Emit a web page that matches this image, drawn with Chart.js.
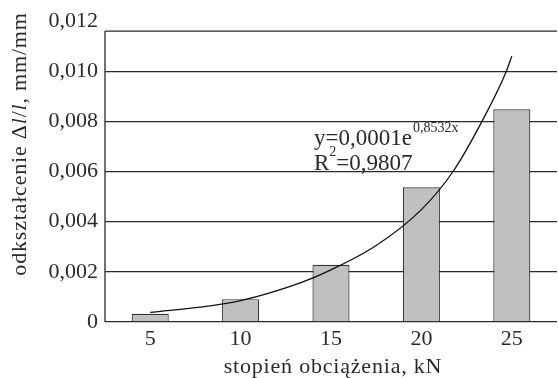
<!DOCTYPE html>
<html>
<head>
<meta charset="utf-8">
<script src="https://cdn.jsdelivr.net/npm/chart.js@4/dist/chart.umd.min.js"></script>
<style>
  html, body { margin: 0; padding: 0; background: #fff; }
  #wrap { width: 558px; height: 378px; }
</style>
</head>
<body>
<div id="wrap"><canvas id="chart" width="558" height="378"></canvas></div>
<script>
// dane
const loads = ["5", "10", "15", "20", "25"];
const strain = [0.00033, 0.00091, 0.00228, 0.00537, 0.00848];
// linia trendu (x = numer stopnia 1..5)
const trendX = [1.0, 1.66, 2.0, 2.66, 3.0, 3.5, 4.0, 4.35, 4.67, 4.94, 5.0];
const trendY = [0.00038, 0.00064, 0.00085, 0.00156, 0.00208, 0.00305, 0.00448, 0.006, 0.008, 0.010, 0.0106];
const yTicks = [0, 0.002, 0.004, 0.006, 0.008, 0.010, 0.012];
const frameTop = 0.0116;

const serif = "'Liberation Serif', 'Times New Roman', serif";
const ink = "#2a2a2a";

// tekst z czesciami pisanymi kursywa, wysrodkowany w (0,0)
function drawParts(ctx, parts, fs) {
  let total = 0;
  parts.forEach(p => {
    ctx.font = (p[1] ? "italic " : "") + fs + "px " + serif;
    total += ctx.measureText(p[0]).width;
  });
  let x = -total / 2;
  parts.forEach(p => {
    ctx.font = (p[1] ? "italic " : "") + fs + "px " + serif;
    ctx.fillText(p[0], x, 0);
    x += ctx.measureText(p[0]).width;
  });
}

// ramka, tytuly osi i rownanie trendu
const extras = {
  id: "extras",
  afterDraw(chart) {
    const ctx = chart.ctx;
    const area = chart.chartArea;
    const ys = chart.scales.y;
    const top = ys.getPixelForValue(frameTop);

    ctx.save();
    ctx.strokeStyle = ink;
    ctx.lineWidth = 1.3;
    ctx.beginPath();
    ctx.moveTo(area.left, top);
    ctx.lineTo(area.right, top);
    ctx.moveTo(area.left, top);
    ctx.lineTo(area.left, area.bottom);
    ctx.stroke();

    ctx.fillStyle = ink;
    ctx.textBaseline = "middle";
    ctx.textAlign = "left";
    ctx.letterSpacing = "0.8px";

    // tytul osi X
    ctx.save();
    ctx.translate(333, 367);
    drawParts(ctx, [["stopień obciążenia, kN", false]], 22);
    ctx.restore();

    // tytul osi Y
    ctx.save();
    ctx.translate(20, 144);
    ctx.rotate(-Math.PI / 2);
    drawParts(ctx, [
      ["odkształcenie ", false],
      ["Δ", false],
      ["l", true],
      ["/", false],
      ["l", true],
      [", mm/mm", false]
    ], 22);
    ctx.restore();
    ctx.restore();

    // rownanie
    ctx.save();
    ctx.fillStyle = ink;
    ctx.textBaseline = "alphabetic";
    ctx.textAlign = "left";
    ctx.font = "23px " + serif;
    ctx.fillText("y=0,0001e", 314, 145);
    const w = ctx.measureText("y=0,0001e").width;
    ctx.font = "14px " + serif;
    ctx.fillText("0,8532x", 314 + w + 1, 132);
    ctx.font = "23px " + serif;
    ctx.fillText("R", 314, 170);
    const rw = ctx.measureText("R").width;
    ctx.font = "14px " + serif;
    ctx.fillText("2", 314 + rw, 156);
    const sw = ctx.measureText("2").width;
    ctx.font = "23px " + serif;
    ctx.fillText("=0,9807", 314 + rw + sw, 170);
    ctx.restore();
  }
};

new Chart(document.getElementById("chart"), {
  data: {
    labels: loads,
    datasets: [
      {
        type: "line",
        data: trendX.map((v, i) => ({ x: v, y: trendY[i] })),
        xAxisID: "xt",
        borderColor: "#111",
        borderWidth: 1.3,
        pointRadius: 0,
        cubicInterpolationMode: "monotone",
        fill: false,
        order: 0
      },
      {
        type: "bar",
        data: strain,
        xAxisID: "x",
        grouped: false,
        backgroundColor: "#c0c0c3",
        borderColor: "#333",
        borderWidth: 1.2,
        categoryPercentage: 1,
        barPercentage: 0.41,
        order: 1
      }
    ]
  },
  options: {
    responsive: false,
    animation: false,
    layout: { padding: { top: 21, right: 1, left: 0, bottom: 0 } },
    plugins: {
      legend: { display: false },
      tooltip: { enabled: false }
    },
    scales: {
      x: {
        type: "category",
        offset: true,
        grid: { display: false, drawTicks: false },
        border: { display: false },
        ticks: {
          color: ink,
          padding: 4,
          font: { family: serif, size: 22 }
        },
        afterFit(scale) { scale.height = 56; }
      },
      xt: {
        type: "linear",
        min: 0.5,
        max: 5.5,
        display: false
      },
      y: {
        min: 0,
        max: 0.012,
        afterBuildTicks(scale) {
          scale.ticks = yTicks.map(v => ({ value: v }));
        },
        grid: {
          drawTicks: false,
          lineWidth: 1.3,
          color: ctx => (ctx.tick && ctx.tick.value > frameTop) ? "rgba(0,0,0,0)" : ink
        },
        border: { display: false },
        ticks: {
          color: ink,
          padding: 7,
          font: { family: serif, size: 22 },
          callback: v => v === 0 ? "0" : v.toFixed(3).replace(".", ",")
        },
        afterFit(scale) { scale.width = 105; }
      }
    }
  },
  plugins: [extras]
});
</script>
</body>
</html>
